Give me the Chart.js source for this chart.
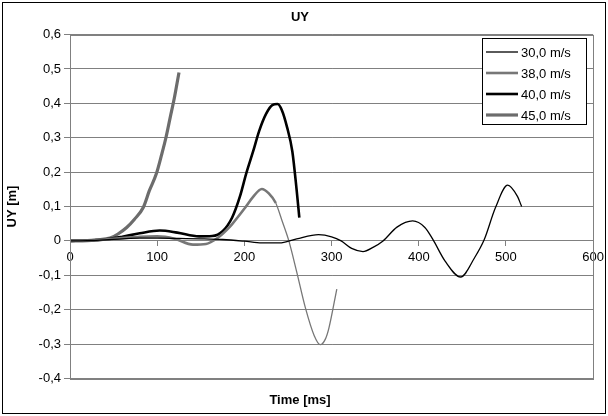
<!DOCTYPE html>
<html>
<head>
<meta charset="utf-8">
<script src="https://cdn.jsdelivr.net/npm/chart.js@4/dist/chart.umd.min.js"></script>
<style>
  html, body { margin: 0; padding: 0; background: #fff; }
  #wrap { width: 608px; height: 416px; position: relative; }
</style>
</head>
<body>
<div id="wrap"><canvas id="c" width="608" height="416"></canvas></div>
<script>
// Vertical displacement UY over time for four wind speeds
const seriesLabels = ['30,0 m/s', '38,0 m/s', '40,0 m/s', '45,0 m/s'];

const t30  = [0, 20, 40, 60, 80, 100, 125, 150, 175, 200, 220, 240, 260, 285, 300, 311, 323, 336, 348, 359, 375, 393, 407, 416, 430, 448, 464, 475, 488, 502, 513, 518];
const uy30 = [0, 0.001, 0.003, 0.006, 0.008, 0.008, 0.007, 0.006, 0.004, -0.001, -0.006, -0.006, 0.006, 0.018, 0.012, 0, -0.022, -0.031, -0.018, 0, 0.040, 0.058, 0.039, 0.005, -0.058, -0.105, -0.049, 0.003, 0.097, 0.162, 0.13, 0.10];

const t38  = [0, 20, 40, 60, 80, 100, 120, 141, 156, 170, 179, 186, 201, 210, 220, 228, 236, 243, 251, 260, 270, 280, 287, 293, 297, 306];
const uy38 = [0, 0.001, 0.004, 0.008, 0.012, 0.013, 0.006, -0.011, -0.009, 0.01, 0.03, 0.049, 0.097, 0.128, 0.151, 0.138, 0.11, 0.06, 0, -0.09, -0.195, -0.275, -0.302, -0.285, -0.253, -0.14];

const t40  = [0, 20, 40, 60, 80, 103, 123, 148, 163, 175, 186, 195, 202, 210, 217, 225, 232, 238, 243, 249, 255, 260, 263];
const uy40 = [0, 0.001, 0.004, 0.012, 0.022, 0.030, 0.024, 0.013, 0.014, 0.028, 0.068, 0.13, 0.195, 0.26, 0.32, 0.37, 0.395, 0.398, 0.38, 0.33, 0.26, 0.146, 0.068];

const t45  = [0, 20, 30, 46, 55, 65, 74, 84, 91, 99, 105, 110, 115, 120, 125];
const uy45 = [0, 0.001, 0.003, 0.008, 0.02, 0.039, 0.063, 0.097, 0.146, 0.195, 0.25, 0.30, 0.36, 0.42, 0.49];

const xTicks = [0, 100, 200, 300, 400, 500, 600];
const yTicks = [0.6, 0.5, 0.4, 0.3, 0.2, 0.1, 0, -0.1, -0.2, -0.3, -0.4];

const FONT = "'Liberation Sans', Arial, sans-serif";
const toPoints = (xs, ys) => xs.map((x, i) => ({ x, y: ys[i] }));
const fmt = v => (Math.abs(v) < 1e-9 ? '0' : v.toFixed(1).replace('.', ','));

const datasets = [
  { label: seriesLabels[0], data: toPoints(t30, uy30), borderColor: '#000000', borderWidth: 1.3 },
  { label: seriesLabels[1], data: toPoints(t38, uy38), borderColor: '#777777', borderWidth: 2.6,
    segment: { borderWidth: c => (c.p0.parsed.x >= 230 ? 1.3 : 2.6) } },
  { label: seriesLabels[2], data: toPoints(t40, uy40), borderColor: '#000000', borderWidth: 2.6 },
  { label: seriesLabels[3], data: toPoints(t45, uy45), borderColor: '#6c6c6c', borderWidth: 3.2 }
].map(d => Object.assign({ pointRadius: 0, fill: false, cubicInterpolationMode: 'monotone' }, d));

// White background, outer frame and plot-area frame
const frames = {
  id: 'frames',
  beforeDraw(chart) {
    const ctx = chart.ctx;
    ctx.save();
    ctx.fillStyle = '#fff';
    ctx.fillRect(0, 0, chart.width, chart.height);
    ctx.restore();
  },
  afterDraw(chart) {
    const ctx = chart.ctx, a = chart.chartArea;
    ctx.save();
    ctx.strokeStyle = '#808080';
    ctx.lineWidth = 1;
    ctx.strokeRect(Math.round(a.left) + 0.5, Math.round(a.top) + 0.5,
                   Math.round(a.right - a.left), Math.round(a.bottom - a.top));
    ctx.strokeStyle = '#000';
    ctx.strokeRect(2.5, 2.5, chart.width - 5, chart.height - 5);
    ctx.restore();
  }
};

// Boxed legend inside the plot area, top right
const boxLegend = {
  id: 'boxLegend',
  afterDraw(chart) {
    const ctx = chart.ctx;
    const bx = 482.5, by = 38.5, bw = 104, bh = 86, rowH = 21.3, firstRow = 51.5;
    ctx.save();
    ctx.fillStyle = '#fff';
    ctx.fillRect(bx, by, bw, bh);
    ctx.strokeStyle = '#000';
    ctx.lineWidth = 1;
    ctx.strokeRect(bx, by, bw, bh);
    ctx.font = '13px ' + FONT;
    ctx.textBaseline = 'middle';
    ctx.textAlign = 'left';
    chart.data.datasets.forEach((ds, i) => {
      const y = Math.round(firstRow + i * rowH);
      ctx.strokeStyle = ds.borderColor;
      ctx.lineWidth = ds.borderWidth;
      ctx.beginPath();
      ctx.moveTo(486, y);
      ctx.lineTo(518, y);
      ctx.stroke();
      ctx.fillStyle = '#000';
      ctx.fillText(ds.label, 521, y + 1);
    });
    ctx.restore();
  }
};

new Chart(document.getElementById('c'), {
  type: 'line',
  data: { datasets },
  plugins: [frames, boxLegend],
  options: {
    responsive: false,
    animation: false,
    layout: { padding: { left: 3, right: 11, top: 0, bottom: 0 } },
    scales: {
      x: {
        type: 'linear',
        min: 0, max: 600,
        position: { y: 0 },
        afterBuildTicks: s => { s.ticks = xTicks.map(v => ({ value: v })); },
        afterFit: s => { s.height = 0; },
        ticks: { color: '#000', font: { family: FONT, size: 13 }, padding: 4, maxRotation: 0 },
        grid: { drawOnChartArea: false, drawTicks: true, tickLength: 5, color: '#808080' },
        border: { color: '#808080' }
      },
      y: {
        min: -0.4, max: 0.6,
        afterBuildTicks: s => { s.ticks = yTicks.map(v => ({ value: v })); },
        afterFit: s => { s.width = 67; },
        ticks: { color: '#000', font: { family: FONT, size: 13 }, padding: 3, callback: v => fmt(v) },
        grid: { color: '#808080', tickLength: 6 },
        border: { color: '#808080' },
        title: { display: true, text: 'UY [m]', color: '#000', font: { family: FONT, size: 13, weight: 'bold' }, padding: { top: 2, bottom: 0 } }
      }
    },
    plugins: {
      legend: { display: false },
      tooltip: { enabled: false },
      title: {
        display: true, text: 'UY', color: '#000',
        font: { family: FONT, size: 13, weight: 'bold' },
        padding: { top: 10, bottom: 9 }
      },
      subtitle: {
        display: true, position: 'bottom', text: 'Time [ms]', color: '#000',
        font: { family: FONT, size: 13, weight: 'bold' },
        padding: { top: 14, bottom: 8 }
      }
    }
  }
});
</script>
</body>
</html>
